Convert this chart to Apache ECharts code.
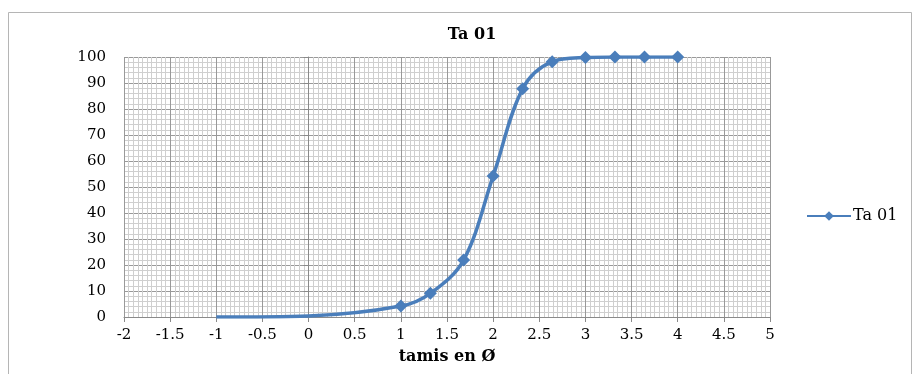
<!DOCTYPE html>
<html>
<head>
<meta charset="utf-8">
<script src="https://cdn.jsdelivr.net/npm/echarts@6/dist/echarts.min.js"></script>
<style>
html,body{margin:0;padding:0;background:#fff;}
#c{width:915px;height:374px;}
</style>
</head>
<body>
<div id="c"></div>
<script>
// Data
var seriesName = 'Ta 01';
var phiValues = [-1, 0, 1, 1.32, 1.68, 2, 2.32, 2.64, 3, 3.32, 3.64, 4];
var cumPercent = [0, 0.4, 4.2, 9.1, 21.9, 54.2, 87.8, 98.2, 99.8, 100, 100, 100];
var xAxisTitle = 'tamis en Ø';
var chartTitle = 'Ta 01';

var serif = '"DejaVu Serif","Liberation Serif",serif';
var pts = phiValues.map(function(x, i){ return [x, cumPercent[i]]; });

var chart = echarts.init(document.getElementById('c'), null, {renderer:'canvas'});
chart.setOption({
  animation:false,
  backgroundColor:'#fff',
  graphic:[{type:'rect', shape:{x:8.5,y:12.5,width:903,height:370}, style:{fill:'none', stroke:'#b5b5b5', lineWidth:1}, silent:true}],
  title:{text:chartTitle, left:467, top:22, textAlign:'center',
    textStyle:{fontFamily:serif, fontWeight:'bold', fontSize:16, color:'#000'}},
  legend:{data:[seriesName], left:801, top:203, itemWidth:44, itemHeight:12, itemGap:0,
    textStyle:{fontFamily:serif, fontSize:16, color:'#000', padding:[0,0,0,-3]}},
  grid:{left:124, right:145, top:57, bottom:57, outerBoundsMode:'none', containLabel:false},
  xAxis:{type:'value', min:-2, max:5, interval:0.5,
    name:xAxisTitle, nameLocation:'middle', nameGap:32,
    nameTextStyle:{fontFamily:serif, fontWeight:'bold', fontSize:16, color:'#000'},
    axisLine:{show:true, onZero:false, lineStyle:{color:'#8a8a8a', width:1}},
    axisTick:{show:true, length:5, lineStyle:{color:'#8a8a8a'}},
    axisLabel:{fontFamily:serif, fontSize:15, color:'#000', margin:11},
    splitLine:{show:true, lineStyle:{color:'#999', width:1}},
    minorTick:{show:false, splitNumber:10},
    minorSplitLine:{show:true, lineStyle:{color:'#cfcfcf', width:1}}
  },
  yAxis:{type:'value', min:0, max:100, interval:10,
    axisLine:{show:true, lineStyle:{color:'#8a8a8a', width:1}},
    axisTick:{show:true, length:5, lineStyle:{color:'#8a8a8a'}},
    axisLabel:{fontFamily:serif, fontSize:15, color:'#000', margin:18},
    splitLine:{show:true, lineStyle:{color:'#999', width:1}},
    minorTick:{show:false, splitNumber:5},
    minorSplitLine:{show:true, lineStyle:{color:'#cfcfcf', width:1}}
  },
  series:[{
    name:seriesName, type:'line', data:pts, smooth:0.35,
    symbol:'diamond',
    symbolSize:function(v){ return v[1] < 1 ? 0 : 13; },
    lineStyle:{color:'#4a7ebb', width:3.5},
    itemStyle:{color:'#4a7ebb'}
  }]
});
</script>
</body>
</html>
